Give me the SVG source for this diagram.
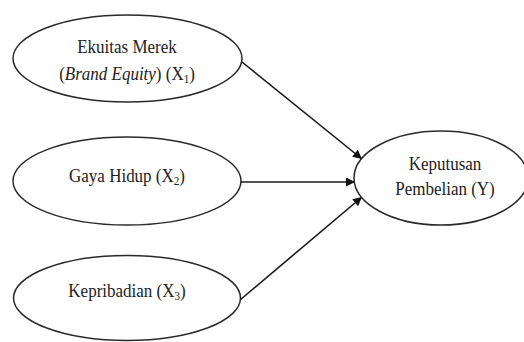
<svg xmlns="http://www.w3.org/2000/svg" width="524" height="342" viewBox="0 0 524 342">
<style>
.n{fill:#fff;stroke:#2a2a2a;stroke-width:1.5}
.t{font-family:'Liberation Serif','Times New Roman',Times,serif;font-size:17px;fill:#222;text-anchor:middle}
.c{stroke:#1a1a1a;stroke-width:1.6;fill:none}
</style>
<defs>
<marker id="ah" viewBox="0 0 10 10" refX="10" refY="5" markerWidth="12" markerHeight="9" orient="auto" markerUnits="userSpaceOnUse">
<path d="M0,0 L10,5 L0,10 z" fill="#111"/>
</marker>
</defs>
<rect width="524" height="342" fill="#fff"/>
<g id="connectors">
<line class="c" x1="242" y1="62" x2="362" y2="159" marker-end="url(#ah)"/>
<line class="c" x1="241" y1="182" x2="355" y2="182" marker-end="url(#ah)"/>
<line class="c" x1="240" y1="300" x2="362" y2="197" marker-end="url(#ah)"/>
</g>
<g id="x1">
<ellipse class="n" cx="127.5" cy="58.5" rx="114.5" ry="43.5"/>
<text class="t" transform="translate(127,53) scale(1,1.13)">Ekuitas Merek</text>
<text class="t" transform="translate(127,80) scale(1,1.13)">(<tspan font-style="italic">Brand Equity</tspan>) (X<tspan font-size="11" dy="3">1</tspan><tspan dy="-3">)</tspan></text>
</g>
<g id="x2">
<ellipse class="n" cx="127" cy="181" rx="114" ry="44"/>
<text class="t" transform="translate(127,182) scale(1,1.13)">Gaya Hidup (X<tspan font-size="11" dy="3">2</tspan><tspan dy="-3">)</tspan></text>
</g>
<g id="x3">
<ellipse class="n" cx="127" cy="298" rx="113.5" ry="42.5"/>
<text class="t" transform="translate(127,297) scale(1,1.13)">Kepribadian (X<tspan font-size="11" dy="3">3</tspan><tspan dy="-3">)</tspan></text>
</g>
<g id="y">
<ellipse class="n" cx="441" cy="178" rx="87" ry="47"/>
<text class="t" transform="translate(445,170) scale(1,1.13)">Keputusan</text>
<text class="t" transform="translate(445,195) scale(1,1.13)">Pembelian (Y)</text>
</g>
</svg>
